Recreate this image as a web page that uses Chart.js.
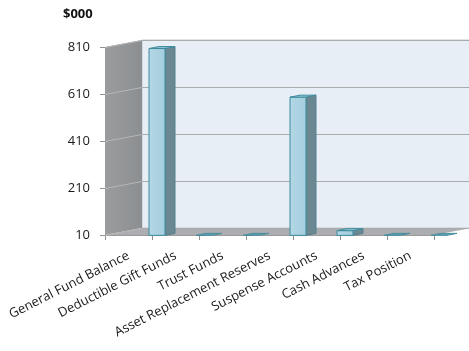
<!DOCTYPE html>
<html>
<head>
<meta charset="utf-8">
<script src="https://cdn.jsdelivr.net/npm/chart.js@4.4.1/dist/chart.umd.min.js"></script>
<style>
  html, body { margin: 0; padding: 0; background: #fff; }
  #wrap { width: 469px; height: 351px; }
</style>
</head>
<body>
<div id="wrap"><canvas id="chart"></canvas></div>
<script>
/* ---- Data ---- */
const categories = [
  'General Fund Balance',
  'Deductible Gift Funds',
  'Trust Funds',
  'Asset Replacement Reserves',
  'Suspense Accounts',
  'Cash Advances',
  'Tax Position',
];
const values = [795, 0, 0, 588, 20, 0, 0];
const yTicks = [10, 210, 410, 610, 810];
const unitLabel = '$000';

/* ---- 3D look ---- */
const WALL = { dx: 37, dy: -7 };            // depth of the box
const BAR = { dx: 28.5, dy: -2, side: 10, sideY: -2 };
const FONT = 'Open Sans';

function poly(ctx, pts, fill, stroke) {
  ctx.beginPath();
  ctx.moveTo(pts[0][0], pts[0][1]);
  for (let i = 1; i < pts.length; i++) ctx.lineTo(pts[i][0], pts[i][1]);
  ctx.closePath();
  if (fill) { ctx.fillStyle = fill; ctx.fill(); }
  if (stroke) { ctx.strokeStyle = stroke; ctx.lineWidth = 1; ctx.stroke(); }
}

const box3d = {
  id: 'box3d',
  beforeDatasetsDraw(chart) {
    const { ctx, chartArea: a, scales: { y } } = chart;
    const L = a.left, R = a.right, T = a.top, B = a.bottom;
    const dx = WALL.dx, dy = WALL.dy;
    ctx.save();
    // back wall
    poly(ctx, [[L + dx, T + dy], [R + dx, T + dy], [R + dx, B + dy], [L + dx, B + dy]], '#e8eef5', '#c4c8cc');
    // side wall
    const g = ctx.createLinearGradient(L, 0, L + dx, 0);
    g.addColorStop(0, '#9a9c9e');
    g.addColorStop(1, '#8c8f91');
    poly(ctx, [[L, T], [L + dx, T + dy], [L + dx, B + dy], [L, B]], g, null);
    // floor
    poly(ctx, [[L, B], [L + dx, B + dy], [R + dx, B + dy], [R, B]], '#abadb0', null);
    // grid lines
    ctx.lineWidth = 1;
    yTicks.forEach(v => {
      const py = Math.round(y.getPixelForValue(v)) + 0.5;
      ctx.strokeStyle = '#b4b6b8';
      ctx.beginPath();
      ctx.moveTo(L, py);
      ctx.lineTo(L + dx, py + dy);
      ctx.stroke();
      ctx.strokeStyle = '#a9abad';
      ctx.beginPath();
      ctx.moveTo(L + dx, py + dy);
      ctx.lineTo(R + dx, py + dy);
      ctx.stroke();
    });
    ctx.restore();
  },
  afterDatasetsDraw(chart) {
    const { ctx } = chart;
    const meta = chart.getDatasetMeta(0);
    ctx.save();
    meta.data.forEach(el => {
      const p = el.getProps(['x', 'y', 'base', 'width'], true);
      const w = p.width;
      const left = p.x - w / 2 + BAR.dx;
      const b = p.base + BAR.dy;
      const t = Math.min(p.y, p.base) + BAR.dy;
      const s = BAR.side, sy = BAR.sideY;
      if (b - t < 0.5) {
        // flat value: only the top cap shows on the floor
        poly(ctx, [[left, b], [left + s, b + sy], [left + w + s, b + sy], [left + w, b]], '#5d9fb0', '#4a8d9f');
        return;
      }
      // side face
      poly(ctx, [[left + w, t], [left + w + s, t + sy], [left + w + s, b + sy], [left + w, b]], '#6b8892', '#4f7f8c');
      // front face
      const fg = ctx.createLinearGradient(left, 0, left + w, 0);
      fg.addColorStop(0, '#b3d7e5');
      fg.addColorStop(1, '#a4cede');
      poly(ctx, [[left, t], [left + w, t], [left + w, b], [left, b]], fg, '#3f8c9e');
      // top face
      poly(ctx, [[left, t], [left + s, t + sy], [left + w + s, t + sy], [left + w, t]], '#8fc2d2', '#3f8c9e');
    });
    ctx.restore();
  },
  afterDraw(chart) {
    const { ctx, scales: { y } } = chart;
    ctx.save();
    ctx.font = 'bold 13px "' + FONT + '"';
    ctx.fillStyle = '#111';
    ctx.textAlign = 'left';
    ctx.textBaseline = 'middle';
    ctx.fillText(unitLabel, y.left + 63, 14);
    ctx.restore();
  }
};

new Chart(document.getElementById('chart'), {
  type: 'bar',
  data: {
    labels: categories,
    datasets: [{
      data: values,
      backgroundColor: 'rgba(0,0,0,0)',
      borderWidth: 0,
      barPercentage: 0.34,
      categoryPercentage: 1,
    }]
  },
  options: {
    responsive: true,
    maintainAspectRatio: false,
    animation: false,
    layout: { padding: { top: 47, right: 35, left: 0, bottom: 0 } },
    plugins: { legend: { display: false }, tooltip: { enabled: false } },
    scales: {
      x: {
        offset: true,
        grid: { display: true, offset: true, drawOnChartArea: false, tickLength: 5, color: '#8f8f8f' },
        border: { display: true, color: '#9a9a9a' },
        ticks: {
          minRotation: 27, maxRotation: 27, autoSkip: false, padding: 8,
          color: '#1a1a1a', font: { family: FONT, size: 13 }
        },
        afterFit: s => { s.height = 116; s.paddingLeft = 0; s.paddingRight = 0; }
      },
      y: {
        min: yTicks[0],
        max: yTicks[yTicks.length - 1],
        afterBuildTicks: s => { s.ticks = yTicks.map(v => ({ value: v })); },
        grid: { display: true, drawOnChartArea: false, tickLength: 5, color: '#8f8f8f' },
        border: { display: true, color: '#9a9a9a' },
        ticks: { padding: 10, color: '#1a1a1a', font: { family: FONT, size: 13 } },
        afterFit: s => { s.width = 105; }
      }
    }
  },
  plugins: [box3d]
});
</script>
</body>
</html>
